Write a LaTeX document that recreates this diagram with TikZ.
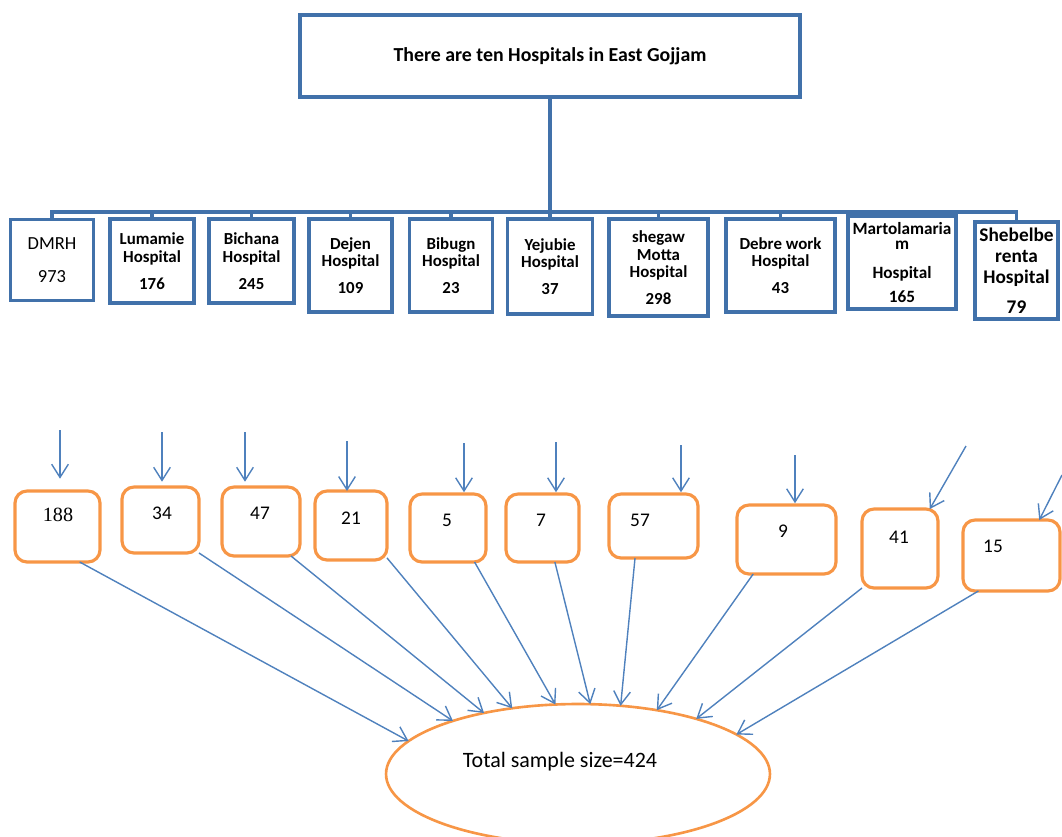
\documentclass[tikz,border=0pt]{standalone}
\usepackage
{
	fontspec,
	xcolor
}
\usetikzlibrary{arrows.meta, shapes.geometric}
\setmainfont{Carlito}
\newfontfamily\numserif{Liberation Serif}
\definecolor{boxblue}{RGB}{65,113,170}
\definecolor{arrblue}{RGB}{79,129,189}
\definecolor{boxorange}{RGB}{247,150,70}

\begin{document}
\begin{tikzpicture}[x=0.02cm, y=-0.02cm,
	hosp/.style={draw=boxblue, line width=1.8pt, align=center, inner sep=1pt, outer sep=0pt, font=\bfseries\fontsize{9.6}{10.2}\selectfont},
	tree/.style={draw=boxblue, line width=2pt},
	sbox/.style={draw=boxorange, line width=1.8pt, rounded corners=0.24cm, outer sep=0pt},
	snum/.style={font=\fontsize{11}{12}\selectfont},
	arr/.style={draw=arrblue, line width=0.8pt, -{Straight Barb[length=7.5pt,width=9.5pt]}}]
		\useasboundingbox (0,0) rectangle (1062,836);
		\node[hosp, minimum width=10cm, minimum height=1.64cm, font=\bfseries\fontsize{11.3}{13}\selectfont] (gojjam) at (550,56) {There are ten Hospitals in East Gojjam};
		% level 2
		\node[hosp, minimum width=1.66cm, minimum height=1.62cm, font=\fontsize{10.5}{12}\selectfont] (h1) at (52,260) {DMRH\\[7pt]973};
		\node[hosp, minimum width=1.68cm, minimum height=1.68cm] (h2) at (152,261) {Lumamie\\Hospital\\[5pt]176};
		\node[hosp, minimum width=1.70cm, minimum height=1.68cm] (h3) at (251.5,261) {Bichana\\Hospital\\[5pt]245};
		\node[hosp, minimum width=1.66cm, minimum height=1.86cm] (h4) at (350.5,265.5) {Dejen\\Hospital\\[5pt]109};
		\node[hosp, minimum width=1.65cm, minimum height=1.86cm] (h5) at (451,265.5) {Bibugn\\Hospital\\[5pt]23};
		\node[hosp, minimum width=1.70cm, minimum height=1.90cm] (h6) at (550,266.5) {Yejubie\\Hospital\\[5pt]37};
		\node[hosp, minimum width=1.98cm, minimum height=1.94cm] (h7) at (658.5,267.5) {shegaw\\Motta\\Hospital\\[5pt]298};
		\node[hosp, minimum width=2.18cm, minimum height=1.86cm] (h8) at (780.5,265.5) {Debre work\\Hospital\\[5pt]43};
		\node[hosp, minimum width=2.16cm, minimum height=1.86cm, font=\bfseries\fontsize{9.8}{8.5}\selectfont] (h9) at (902,262.5) {Martolamaria\\m\\[8pt]Hospital\\[5pt]165};
		\node[hosp, minimum width=1.66cm, minimum height=1.94cm, font=\bfseries\fontsize{11}{12}\selectfont] (h10) at (1016.5,270.5) {Shebelbe\\renta\\Hospital\\[5pt]79};
		\coordinate (bar) at (550,212);
		\foreach \i in {1,...,10}
			\draw[tree] (gojjam.south) -- (bar) -| (h\i.north);
		% samples
		\node[sbox, minimum width=1.70cm, minimum height=1.42cm] (s1) at (57.5,526.5) {};
		\node[sbox, minimum width=1.54cm, minimum height=1.32cm] (s2) at (160.5,520) {};
		\node[sbox, minimum width=1.56cm, minimum height=1.38cm] (s3) at (261,521.5) {};
		\node[sbox, minimum width=1.44cm, minimum height=1.38cm] (s4) at (351,525.5) {};
		\node[sbox, minimum width=1.52cm, minimum height=1.36cm] (s5) at (448,528) {};
		\node[sbox, minimum width=1.46cm, minimum height=1.36cm] (s6) at (542.5,528) {};
		\node[sbox, minimum width=1.78cm, minimum height=1.28cm] (s7) at (653.5,526) {};
		\node[sbox, minimum width=1.98cm, minimum height=1.38cm] (s8) at (786.5,539.5) {};
		\node[sbox, minimum width=1.52cm, minimum height=1.58cm] (s9) at (900,548.5) {};
		\node[sbox, minimum width=1.94cm, minimum height=1.42cm] (s10) at (1011.5,555.5) {};
		\node[snum, font=\numserif\fontsize{11.5}{12}\selectfont] (n1) at (58,515) {188};
		\node[snum] (n2) at (162,513) {34};
		\node[snum] (n3) at (260,513) {47};
		\node[snum] (n4) at (351,518) {21};
		\node[snum] (n5) at (447,520) {5};
		\node[snum] (n6) at (541,520) {7};
		\node[snum] (n7) at (640,520) {57};
		\node[snum] (n8) at (783,531) {9};
		\node[snum] (n9) at (899,537) {41};
		\node[snum] (n10) at (993,546) {15};
		\coordinate (a1) at (60,430);
		\coordinate (a2) at (162,432);
		\coordinate (a3) at (245,432);
		\coordinate (a4) at (347,441);
		\coordinate (a5) at (464,443);
		\coordinate (a6) at (556,442);
		\coordinate (a7) at (681,445);
		\coordinate (a8) at (795,455);
		\coordinate (a9) at (966,446);
		\coordinate (a10) at (1062,475);
		\foreach \i/\g in {1/7pt,2/3pt,3/3pt,4/0pt,5/1pt,6/1pt,7/1pt,8/1pt}
			\draw[arr, shorten >=\g] (a\i) -- (a\i |- s\i.north);
		\draw[arr] (a9) -- (s9.53);
		\draw[arr] (a10) -- (s10.52);
		% total
		\node[draw=boxorange, line width=1.5pt, ellipse, minimum width=7.68cm, minimum height=2.8cm, outer sep=0pt] (total) at (578,774) {};
		\node[font=\fontsize{12.5}{14}\selectfont] (tlabel) at (560,762) {Total sample size=424};
		\draw[arr] (s1.-58) -- (total.169);
		\draw[arr] (s2.south east) -- (total.157);
		\draw[arr] (s3.-49) -- (total.147);
		\draw[arr] (s4.-42) -- (total.135);
		\draw[arr] (s5.-52) -- (total.108);
		\draw[arr] (s6.-70) -- (total.80);
		\draw[arr] (s7.-120) -- (total.58);
		\draw[arr] (s8.-134) -- (total.39);
		\draw[arr] (s9.south west) -- (total.25);
		\draw[arr] (s10.-133) -- (total.14);
	\end{tikzpicture}
\end{document}
